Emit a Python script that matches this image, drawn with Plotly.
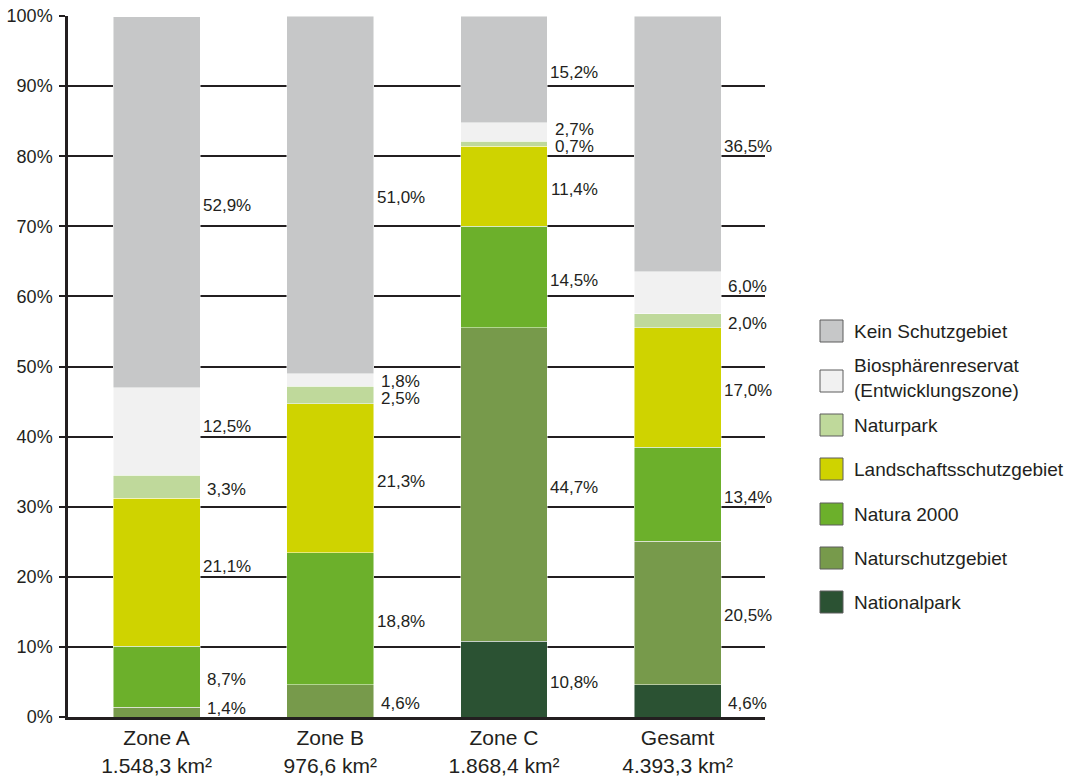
import plotly.graph_objects as go

# Areas (share of each zone's area, in %)
categories = ["Zone A", "Zone B", "Zone C", "Gesamt"]
areas = ["1.548,3 km²", "976,6 km²", "1.868,4 km²", "4.393,3 km²"]

series_names = [
    "Nationalpark",
    "Naturschutzgebiet",
    "Natura 2000",
    "Landschaftsschutzgebiet",
    "Naturpark",
    "Biosphärenreservat<br>(Entwicklungszone)",
    "Kein Schutzgebiet",
]
nationalpark = [0.0, 0.0, 10.8, 4.6]
naturschutzgebiet = [1.4, 4.6, 44.7, 20.5]
natura_2000 = [8.7, 18.8, 14.5, 13.4]
landschaftsschutz = [21.1, 21.3, 11.4, 17.0]
naturpark = [3.3, 2.5, 0.7, 2.0]
biosphaere = [12.5, 1.8, 2.7, 6.0]
kein_schutz = [52.9, 51.0, 15.2, 36.5]

series_values = [nationalpark, naturschutzgebiet, natura_2000, landschaftsschutz,
                 naturpark, biosphaere, kein_schutz]
series_colors = ["#2b5233", "#779a4b", "#6cb02b", "#cfd300", "#bfd99b", "#f1f1f1", "#c6c7c8"]

y_ticks = list(range(0, 101, 10))
y_tick_labels = [f"{v}%" for v in y_ticks]

FONT = "Liberation Sans, Arial, Helvetica, sans-serif"
TEXT = "#231f20"

# plot-area geometry (pixels)
W, H = 1074, 780
ML, MR, MT, MB = 68, 309, 16, 63
PW, PH = W - ML - MR, H - MT - MB
PX_PER_PCT = PH / 100.0


def px_x(px):
    return (px - ML) / PW


def px_y(py):
    return (H - MB - py) / PH


fig = go.Figure()
xs = list(range(len(categories)))
for name, vals, col in zip(series_names, series_values, series_colors):
    fig.add_trace(go.Bar(
        x=xs, y=vals, name=name, width=0.5,
        marker=dict(color=col, line=dict(color="rgba(255,255,255,0.6)", width=0.8)),
        showlegend=False, hoverinfo="skip",
    ))


def spread(mids, gap=2.4, floor=1.6):
    """Push label positions apart so neighbouring labels do not collide."""
    pos = [max(m, floor) for m in mids]
    for _ in range(50):
        moved = False
        for i in range(len(pos) - 1):
            d = pos[i + 1] - pos[i]
            if d < gap:
                shift = (gap - d) / 2
                pos[i] -= shift
                pos[i + 1] += shift
                moved = True
        pos[0] = max(pos[0], floor)
        if not moved:
            break
    return pos


def clear_grid(y, near=8, keep=10):
    """Lower the label slightly, then keep it off the horizontal gridlines."""
    y -= 3 / PX_PER_PCT
    for g in y_ticks:
        if abs(y - g) < near / PX_PER_PCT:
            y = g + keep / PX_PER_PCT if y >= g else g - keep / PX_PER_PCT
    return y


def keep_apart(pos, min_px=17):
    """Final pass from the bottom up so stacked labels keep a minimum spacing."""
    out = list(pos)
    for i in range(1, len(out)):
        if out[i] - out[i - 1] < min_px / PX_PER_PCT:
            out[i] = out[i - 1] + min_px / PX_PER_PCT
    return out


annotations = []
for ci in xs:
    base = 0.0
    mids, texts = [], []
    for vals in series_values:
        v = vals[ci]
        if v > 0:
            mids.append(base + v / 2)
            texts.append(f"{v:.1f}%".replace(".", ","))
        base += v
    ys = keep_apart([clear_grid(y) for y in spread(mids)])
    for y, t in zip(ys, texts):
        annotations.append(dict(
            x=ci + 0.405, y=y, xref="x", yref="y", text=t, showarrow=False,
            xanchor="center", yanchor="middle",
            font=dict(family=FONT, size=17, color=TEXT),
        ))

# legend: swatches with labels, top item first
legend_centres = [331, 381, 425, 469, 514, 558, 602]
shapes = []
for k, (name, col) in enumerate(zip(series_names[::-1], series_colors[::-1])):
    cy = legend_centres[k]
    shapes.append(dict(
        type="rect", xref="paper", yref="paper",
        x0=px_x(820), x1=px_x(843), y0=px_y(cy + 11), y1=px_y(cy - 11),
        fillcolor=col, line=dict(color="#5c5c5c", width=1),
    ))
    annotations.append(dict(
        x=px_x(852), y=px_y(cy - (3 if "<br>" in name else 0)), xref="paper", yref="paper",
        text=name, showarrow=False, xanchor="left", yanchor="middle", align="left",
        font=dict(family=FONT, size=19, color=TEXT),
    ))

fig.update_layout(
    width=W, height=H,
    margin=dict(l=ML, r=MR, t=MT, b=MB, pad=0, autoexpand=False),
    barmode="stack",
    plot_bgcolor="white", paper_bgcolor="white",
    font=dict(family=FONT, color=TEXT),
    annotations=annotations,
    shapes=shapes,
    showlegend=False,
)
fig.update_xaxes(
    range=[-0.51, 3.503], tickvals=xs,
    ticktext=[f"{c}<br>{a}" for c, a in zip(categories, areas)],
    tickfont=dict(family=FONT, size=21, color=TEXT),
    showline=True, linecolor=TEXT, linewidth=3, showgrid=False,
    ticks="", zeroline=False, fixedrange=True, automargin=False,
)
fig.update_yaxes(
    range=[0, 100], tickvals=y_ticks, ticktext=y_tick_labels,
    tickfont=dict(family=FONT, size=18, color=TEXT),
    showline=True, linecolor=TEXT, linewidth=2.5,
    showgrid=True, gridcolor=TEXT, gridwidth=2,
    ticks="outside", ticklen=6, tickwidth=2, tickcolor=TEXT,
    ticklabelstandoff=3,
    zeroline=False, fixedrange=True, automargin=False,
)

fig.write_html("out.html")
